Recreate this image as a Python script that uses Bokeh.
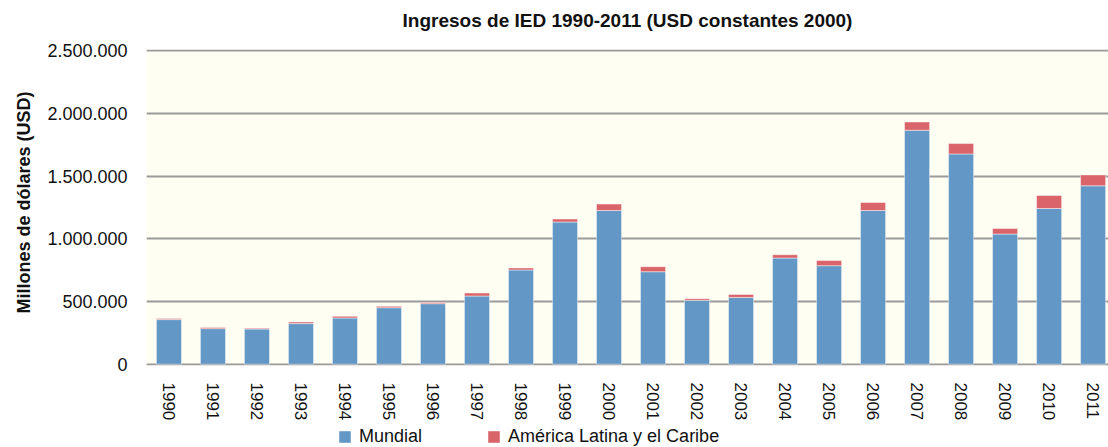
from bokeh.plotting import figure
from bokeh.layouts import column
from bokeh.models import ColumnDataSource, Range1d, FixedTicker, Legend, LegendItem, Title
from bokeh.embed import file_html
from bokeh.resources import INLINE

years = list(range(1990, 2012))
mundial = [356000, 284000, 281000, 324000, 369000, 451000, 483000, 544000, 752000, 1134000,
           1226000, 738000, 510000, 533000, 847000, 786000, 1226000, 1866000, 1677000, 1038000,
           1242000, 1423000]
latam = [8000, 9000, 7000, 13000, 13000, 11000, 9000, 24000, 16000, 24000,
         51000, 40000, 13000, 24000, 26000, 42000, 64000, 66000, 83000, 45000,
         104000, 87000]
y_ticks = [0, 500000, 1000000, 1500000, 2000000, 2500000]
y_tick_labels = ["0", "500.000", "1.000.000", "1.500.000", "2.000.000", "2.500.000"]
series_names = ["Mundial", "América Latina y el Caribe"]
colors = ["#6397C6", "#D9646A"]
title_text = "Ingresos de IED 1990-2011 (USD constantes 2000)"
ylabel_text = "Millones de dólares (USD)"

src = ColumnDataSource(dict(year=years, Mundial=mundial, Latam=latam))

FONT = "Liberation Sans"

p = figure(frame_width=962, frame_height=316, output_backend="svg", toolbar_location=None,
           x_range=Range1d(1989.49, 2011.35), y_range=Range1d(-10000, 2510000),
           min_border_left=146, min_border_right=0, min_border_top=49, min_border_bottom=58)

# spacer between frame and title, then the title itself
spacer = Title(text=" ", text_font_size="1px", standoff=16)
p.add_layout(spacer, "above")
main_title = Title(text=title_text, align="center", standoff=0,
                   text_font=FONT, text_font_size="19px", text_font_style="bold",
                   text_color="#111111")
p.add_layout(main_title, "above")

p.background_fill_color = "#FFFEF2"
p.border_fill_color = "white"
p.outline_line_color = None

r = p.vbar_stack(["Mundial", "Latam"], x="year", width=0.57, source=src,
                 color=colors, line_color="white", line_alpha=0.45, line_width=1)

# axes
p.xaxis.ticker = FixedTicker(ticks=years)
p.xaxis.major_label_overrides = {y: str(y) for y in years}
p.xaxis.major_label_orientation = "vertical"
p.xaxis.major_label_text_font = FONT
p.xaxis.major_label_text_font_size = "17px"
p.xaxis.major_label_text_color = "#111111"
p.xaxis.major_label_standoff = 17
p.xaxis.major_tick_out = 0
p.xaxis.major_tick_in = 0
p.xaxis.minor_tick_out = 0
p.xaxis.minor_tick_in = 0
p.xaxis.major_tick_line_color = None
p.xaxis.minor_tick_line_color = None
p.xaxis.axis_line_color = None

p.yaxis.ticker = FixedTicker(ticks=y_ticks)
p.yaxis.major_label_overrides = {t: l for t, l in zip(y_ticks, y_tick_labels)}
p.yaxis.major_label_text_font = FONT
p.yaxis.major_label_text_font_size = "18px"
p.yaxis.major_label_text_color = "#111111"
p.yaxis.major_label_standoff = 19
p.yaxis.major_tick_out = 0
p.yaxis.major_tick_in = 0
p.yaxis.minor_tick_out = 0
p.yaxis.minor_tick_in = 0
p.yaxis.major_tick_line_color = None
p.yaxis.minor_tick_line_color = None
p.yaxis.axis_line_color = None

ylab = Title(text=ylabel_text, align="left", offset=52, standoff=22,
             text_font=FONT, text_font_size="18px", text_font_style="bold",
             text_color="#111111")
p.add_layout(ylab, "left")

p.xgrid.grid_line_color = None
p.ygrid.ticker = FixedTicker(ticks=y_ticks)
p.ygrid.grid_line_color = "#9A9A9A"
p.ygrid.grid_line_width = 2
p.ygrid.level = "underlay"

# legend strip below the chart (its bars fall outside the strip's range, only the keys show)
lg = figure(width=1108, height=24, output_backend="svg", toolbar_location=None,
            x_range=Range1d(0, 1), y_range=Range1d(0, 1),
            x_axis_location=None, y_axis_location=None,
            min_border_left=0, min_border_right=0, min_border_top=0, min_border_bottom=0)
lg.grid.visible = False
lg.outline_line_color = None
lg.background_fill_color = "white"
lg.border_fill_color = "white"
key0 = lg.vbar(x="year", top="Mundial", width=0.57, source=src,
               color=colors[0], line_color="white", line_alpha=0.45)
key1 = lg.vbar(x="year", top="Latam", width=0.57, source=src,
               color=colors[1], line_color="white", line_alpha=0.45)

legend = Legend(items=[LegendItem(label=series_names[0], renderers=[key0]),
                       LegendItem(label=series_names[1], renderers=[key1])],
                orientation="horizontal", location=(191, 0),
                margin=0, padding=0, spacing=64, label_standoff=7,
                glyph_width=15, glyph_height=15, label_height=15,
                label_text_font=FONT, label_text_font_size="18px",
                label_text_color="#111111",
                background_fill_alpha=0, border_line_color=None)
lg.add_layout(legend, "center")

layout = column(p, lg, spacing=0)
open("out.html", "w").write(file_html(layout, INLINE))
